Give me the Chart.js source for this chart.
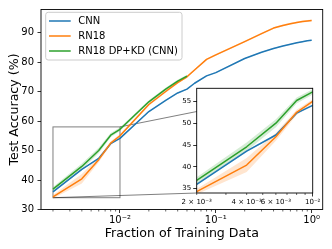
<!DOCTYPE html>
<html><head><meta charset="utf-8">
<script src="https://cdn.jsdelivr.net/npm/chart.js@4.4.0/dist/chart.umd.min.js"></script>
<style>
html,body{margin:0;padding:0;background:#fff;}
#wrap{position:relative;width:332px;height:249px;overflow:hidden;}
canvas{position:absolute;left:0;top:0;}
</style></head><body>
<div id="wrap"><canvas id="main" width="332" height="249"></canvas><canvas id="inset" width="332" height="249"></canvas></div>
<script>
// ---- data ----
const fractions = [0.002,0.004,0.006,0.008,0.01,0.02,0.03,0.04,0.05,0.06,0.08,0.1,0.2,0.3,0.4,0.5,0.6,0.7,0.8,0.9,1.0];
const cnnAcc  = [36.0,43.6,47.3,52.3,54.1,63.2,67.0,69.5,70.8,72.8,75.3,76.4,81.2,83.3,84.6,85.4,86.0,86.5,86.9,87.2,87.4];
const rn18Acc = [34.3,40.4,46.9,52.5,55.0,65.6,70.0,73.0,75.0,77.3,80.9,82.4,86.9,89.6,91.5,92.4,93.0,93.4,93.7,93.9,94.1];
const kdAcc   = [36.9,44.6,50.0,55.2,57.2,66.5,70.8,73.5,75.2];
const cnnStd  = [0.2,0.2,0.2,0.2,0.2,0.2,0.2,0.2,0.2,0.2,0.2,0.2,0.2,0.2,0.2,0.2,0.2,0.2,0.2,0.2,0.2];
const rn18Std = [0.6,1.6,0.9,0.6,0.5,0.4,0.4,0.4,0.4,0.3,0.3,0.3,0.3,0.3,0.3,0.3,0.3,0.3,0.3,0.3,0.3];
const kdStd   = [0.7,1.0,0.9,0.7,0.6,0.5,0.5,0.5,0.5];
const seriesNames  = ['CNN','RN18','RN18 DP+KD (CNN)'];
const seriesColors = ['#1f77b4','#ff7f0e','#2ca02c'];
const bandColors   = ['rgba(31,119,180,0.2)','rgba(255,127,14,0.2)','rgba(44,160,44,0.2)'];
const mainYTicks = [30,40,50,60,70,80,90];
const mainXTicks = [0.002,0.003,0.004,0.005,0.006,0.007,0.008,0.009,0.01,0.02,0.03,0.04,0.05,0.06,0.07,0.08,0.09,0.1,0.2,0.3,0.4,0.5,0.6,0.7,0.8,0.9,1];
const mainXLabels = {0.01:'10\u207B\u00B2', 0.1:'10\u207B\u00B9', 1:'10\u2070'};
const insetXTicks = [0.002,0.003,0.004,0.005,0.006,0.007,0.008,0.009,0.01];
const insetXLabels = {0.002:'2 \u00D7 10\u207B\u00B3', 0.004:'4 \u00D7 10\u207B\u00B3', 0.006:'6 \u00D7 10\u207B\u00B3', 0.01:'10\u207B\u00B2'};
const insetYTicks = [35,40,45,50,55];
const zoomX = [0.002, 0.01];
const zoomY = [34, 58];

Chart.defaults.font.family = '"DejaVu Sans"';
Chart.defaults.color = '#000';

const pts = (vals) => vals.map((v,i)=>({x:fractions[i], y:v}));
const band = (vals, sd, s) => vals.map((v,i)=>({x:fractions[i], y:v + s*sd[i]}));

function buildDatasets(lw){
  const acc = [cnnAcc, rn18Acc, kdAcc];
  const sds = [cnnStd, rn18Std, kdStd];
  const ds = [];
  // main lines: green on top
  [2,1,0].forEach((k,j)=>{
    ds.push({label:seriesNames[k], data:pts(acc[k]), borderColor:seriesColors[k], borderWidth:lw,
      pointRadius:0, fill:false, tension:0, borderJoinStyle:'round', order:j});
  });
  [2,1,0].forEach((k,j)=>{
    ds.push({label:'hi'+k, data:band(acc[k],sds[k],1), borderWidth:0, pointRadius:0,
      backgroundColor:bandColors[k], fill:'+1', tension:0, order:3+j});
    ds.push({label:'lo'+k, data:band(acc[k],sds[k],-1), borderWidth:0, pointRadius:0,
      fill:false, tension:0, order:3+j});
  });
  return ds;
}

function minorTicks(chart, vals, len){
  const ctx = chart.ctx, xs = chart.scales.x, ca = chart.chartArea;
  ctx.save(); ctx.strokeStyle = '#000'; ctx.lineWidth = 0.6;
  vals.forEach(v=>{
    if (v < xs.min || v > xs.max) return;
    const p = xs.getPixelForValue(v);
    ctx.beginPath(); ctx.moveTo(p, ca.bottom); ctx.lineTo(p, ca.bottom+len); ctx.stroke();
  });
  ctx.restore();
}
function frame(chart){
  const ctx = chart.ctx, ca = chart.chartArea;
  ctx.save(); ctx.strokeStyle = '#000'; ctx.lineWidth = 0.9;
  ctx.strokeRect(ca.left, ca.top, ca.right-ca.left, ca.bottom-ca.top);
  ctx.restore();
}
const isDecade = (v) => Math.abs(Math.log10(v) - Math.round(Math.log10(v))) < 1e-9;

// ---- inset chart ----
const insetChart = new Chart(document.getElementById('inset'), {
  type:'line',
  data:{datasets: buildDatasets(1.5)},
  options:{
    responsive:false, animation:false, devicePixelRatio:1,
    layout:{padding:{left:176.7, top:88.3, right:19.3, bottom:36}},
    plugins:{legend:{display:false}, tooltip:{enabled:false}},
    scales:{
      x:{type:'logarithmic', min:zoomX[0], max:zoomX[1],
        afterFit:(s)=>{s.height = 20;},
        afterBuildTicks:(s)=>{s.ticks = insetXTicks.map(v=>({value:v}));},
        ticks:{autoSkip:false, maxRotation:0, minRotation:0, padding:1, font:{size:7},
          callback:(v)=> insetXLabels[v] || ''},
        grid:{drawOnChartArea:false, drawTicks:true, tickLength:3.5,
          tickColor:(c)=> (c.tick && isDecade(c.tick.value)) ? '#000' : 'rgba(0,0,0,0)', tickWidth:0.8},
        border:{display:false}},
      y:{type:'linear', min:zoomY[0], max:zoomY[1],
        afterFit:(s)=>{s.width = 20;},
        afterBuildTicks:(s)=>{s.ticks = insetYTicks.map(v=>({value:v}));},
        ticks:{padding:2, font:{size:7}},
        grid:{drawOnChartArea:false, drawTicks:true, tickLength:3.5, tickColor:'#000', tickWidth:0.8},
        border:{display:false}}
    }
  },
  plugins:[{id:'insetDeco',
    beforeDraw:(chart)=>{
      const ctx = chart.ctx, ca = chart.chartArea;
      ctx.save(); ctx.fillStyle = '#fff';
      ctx.fillRect(ca.left, ca.top, ca.right-ca.left, ca.bottom-ca.top);
      ctx.restore();
    },
    afterDraw:(chart)=>{
      frame(chart);
      minorTicks(chart, insetXTicks.filter(v=>!isDecade(v)), 2);
    }
  }]
});

// ---- main chart ----
new Chart(document.getElementById('main'), {
  type:'line',
  data:{datasets: buildDatasets(1.5)},
  options:{
    responsive:false, animation:false, devicePixelRatio:1,
    layout:{padding:{left:0, top:8, right:9.3, bottom:0}},
    plugins:{legend:{display:false}, tooltip:{enabled:false}},
    scales:{
      x:{type:'logarithmic', min:0.0015, max:1.303,
        afterFit:(s)=>{s.height = 39.5;},
        afterBuildTicks:(s)=>{s.ticks = mainXTicks.map(v=>({value:v}));},
        ticks:{autoSkip:false, maxRotation:0, minRotation:0, padding:1, font:{size:10},
          callback:(v)=>{ for (const k in mainXLabels){ if (Math.abs(+k - v) < 1e-9) return mainXLabels[k]; } return ''; }},
        grid:{drawOnChartArea:false, drawTicks:true, tickLength:3.5,
          tickColor:(c)=> (c.tick && isDecade(c.tick.value)) ? '#000' : 'rgba(0,0,0,0)', tickWidth:0.8},
        border:{display:false},
        title:{display:true, text:'Fraction of Training Data', font:{size:12.6}, padding:{top:0, bottom:7.4}}},
      y:{type:'linear', min:30, max:97.8,
        afterFit:(s)=>{s.width = 41;},
        afterBuildTicks:(s)=>{s.ticks = mainYTicks.map(v=>({value:v}));},
        ticks:{padding:3.5, font:{size:10}},
        grid:{drawOnChartArea:false, drawTicks:true, tickLength:3.5, tickColor:'#000', tickWidth:0.8},
        border:{display:false},
        title:{display:true, text:'Test Accuracy (%)', font:{size:12.6}, padding:{top:7.4, bottom:0}}}
    }
  },
  plugins:[{id:'mainDeco',
    beforeDatasetsDraw:(chart)=>{
      const ctx = chart.ctx, xs = chart.scales.x, ys = chart.scales.y;
      const x1 = xs.getPixelForValue(zoomX[0]), x2 = xs.getPixelForValue(zoomX[1]);
      const y1 = ys.getPixelForValue(zoomY[1]), y2 = ys.getPixelForValue(zoomY[0]);
      const ia = insetChart.chartArea;
      ctx.save(); ctx.strokeStyle = 'rgba(0,0,0,0.5)'; ctx.lineWidth = 1;
      ctx.strokeRect(x1, y1, x2-x1, y2-y1);
      ctx.beginPath(); ctx.moveTo(x2, y1); ctx.lineTo(ia.right, ia.top); ctx.stroke();
      ctx.beginPath(); ctx.moveTo(x1, y2); ctx.lineTo(ia.left, ia.bottom); ctx.stroke();
      ctx.restore();
    },
    afterDraw:(chart)=>{
      frame(chart);
      minorTicks(chart, mainXTicks.filter(v=>!isDecade(v)), 2);
      // legend
      const ctx = chart.ctx;
      ctx.save();
      const bx = 45.7, by = 12.3, bw = 136.3, bh = 47.7, r = 2.5;
      ctx.beginPath();
      ctx.moveTo(bx+r, by); ctx.lineTo(bx+bw-r, by); ctx.arcTo(bx+bw, by, bx+bw, by+r, r);
      ctx.lineTo(bx+bw, by+bh-r); ctx.arcTo(bx+bw, by+bh, bx+bw-r, by+bh, r);
      ctx.lineTo(bx+r, by+bh); ctx.arcTo(bx, by+bh, bx, by+bh-r, r);
      ctx.lineTo(bx, by+r); ctx.arcTo(bx, by, bx+r, by, r); ctx.closePath();
      ctx.fillStyle = 'rgba(255,255,255,0.8)'; ctx.fill();
      ctx.strokeStyle = '#cccccc'; ctx.lineWidth = 1; ctx.stroke();
      ctx.font = '10px "DejaVu Sans"'; ctx.textBaseline = 'middle'; ctx.textAlign = 'left';
      seriesNames.forEach((n,i)=>{
        const yy = 21 + i*15;
        ctx.strokeStyle = seriesColors[i]; ctx.lineWidth = 1.5;
        ctx.beginPath(); ctx.moveTo(49, yy); ctx.lineTo(70.7, yy); ctx.stroke();
        ctx.fillStyle = '#000'; ctx.fillText(n, 78.3, yy);
      });
      ctx.restore();
    }
  }]
});
</script>
</body></html>
